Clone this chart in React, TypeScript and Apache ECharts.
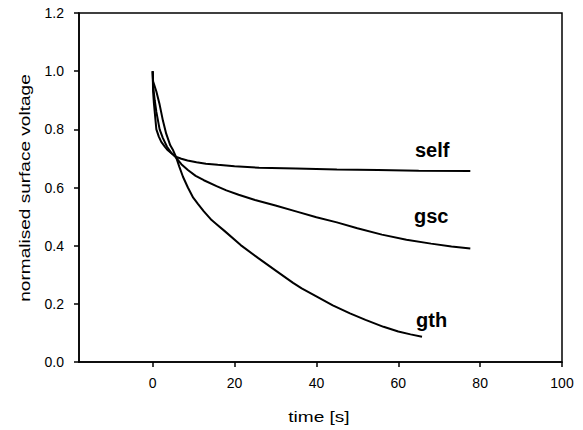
import React, { useEffect, useRef } from "react";
import * as echarts from "echarts";

// time [s] and normalised surface voltage
const selfT = [0, 0.1, 0.3, 0.5, 0.9, 1.5, 2.1, 3.0, 3.7, 4.8, 5.8, 7, 8.5, 10.7, 13, 15.9, 20, 26, 35, 45, 55, 65, 77.6];
const selfV = [1.0, 0.93, 0.89, 0.86, 0.8, 0.775, 0.757, 0.74, 0.728, 0.715, 0.705, 0.699, 0.693, 0.687, 0.682, 0.678, 0.673, 0.668, 0.665, 0.662, 0.66, 0.658, 0.657];

const gscT = [0, 0.1, 0.5, 0.9, 1.7, 2.5, 3.5, 4.5, 5.7, 7, 8.6, 10.5, 12.5, 15.6, 18, 21, 25, 30, 35, 40, 45, 50, 56, 62, 68, 73, 77.6];
const gscV = [1.0, 0.95, 0.9, 0.86, 0.8, 0.77, 0.74, 0.72, 0.703, 0.68, 0.66, 0.64, 0.625, 0.605, 0.59, 0.575, 0.557, 0.538, 0.518, 0.498, 0.48, 0.46, 0.438, 0.42, 0.407, 0.397, 0.39];

const gthT = [0, 0.1, 0.9, 1.7, 2.5, 3.3, 4.3, 5.0, 5.7, 6.5, 7.4, 8.6, 9.9, 11.1, 12.5, 14.4, 15.6, 17.6, 21.5, 25.8, 29.9, 34.3, 36.4, 40.1, 44, 48.2, 52, 56.4, 60, 63, 65.8];
const gthV = [1.0, 0.965, 0.93, 0.885, 0.83, 0.785, 0.745, 0.728, 0.705, 0.672, 0.637, 0.6, 0.565, 0.543, 0.518, 0.488, 0.474, 0.45, 0.402, 0.357, 0.316, 0.272, 0.253, 0.225, 0.195, 0.167, 0.145, 0.121, 0.105, 0.095, 0.087];

const seriesNames = ["self", "gsc", "gth"];
const xTicks = [0, 20, 40, 60, 80, 100];
const xTitle = "time [s]";
const yTitle = "normalised surface voltage";

const pair = (t: number[], v: number[]) => t.map((x, i) => [x, v[i]]);

export default function App() {
  const ref = useRef<HTMLDivElement>(null);
  useEffect(() => {
    if (!ref.current) return;
    const chart = echarts.init(ref.current, undefined, { renderer: "svg" });
    const datasets = [pair(selfT, selfV), pair(gscT, gscV), pair(gthT, gthV)];
    const labelFont = { fontFamily: "Liberation Sans, Arial, sans-serif", fontSize: 20, fontWeight: "bold" as const, fill: "#000" };
    const titleFont = { fontFamily: "Liberation Sans, Arial, sans-serif", fontSize: 14, fill: "#000", align: "center" as const, verticalAlign: "middle" as const };
    chart.setOption({
      animation: false,
      backgroundColor: "#fff",
      grid: { left: 79, right: 21, top: 13, bottom: 68, show: true, borderColor: "#000", borderWidth: 1.5, backgroundColor: "transparent" },
      xAxis: {
        type: "value",
        min: -18,
        max: 100,
        axisLine: { show: true, onZero: false, lineStyle: { color: "#000", width: 1.5 } },
        axisTick: { show: true, inside: false, length: 5, customValues: xTicks, lineStyle: { color: "#000", width: 1.5 } },
        axisLabel: { customValues: xTicks, margin: 14, fontFamily: "Liberation Sans, Arial, sans-serif", fontSize: 14, color: "#000" },
        splitLine: { show: false },
      },
      yAxis: {
        type: "value",
        min: 0,
        max: 1.2,
        interval: 0.2,
        axisLine: { show: true, onZero: false, lineStyle: { color: "#000", width: 1.5 } },
        axisTick: { show: true, inside: false, length: 5, lineStyle: { color: "#000", width: 1.5 } },
        axisLabel: { margin: 15, formatter: (v: number) => v.toFixed(1), fontFamily: "Liberation Sans, Arial, sans-serif", fontSize: 14, color: "#000" },
        splitLine: { show: false },
      },
      series: datasets.map((d, i) => ({
        name: seriesNames[i],
        type: "line",
        data: d,
        showSymbol: false,
        symbol: "none",
        smooth: false,
        lineStyle: { color: "#000", width: 2 },
      })),
      graphic: [
        { type: "text", left: 415, top: 140, style: { text: seriesNames[0], ...labelFont } },
        { type: "text", left: 414, top: 206, style: { text: seriesNames[1], ...labelFont } },
        { type: "text", left: 416, top: 310, style: { text: seriesNames[2], ...labelFont } },
        { type: "text", x: 319, y: 417, scaleX: 1.36, style: { text: xTitle, ...titleFont } },
        { type: "text", x: 25, y: 188, rotation: Math.PI / 2, scaleX: 1.36, style: { text: yTitle, ...titleFont } },
      ],
    });
    return () => chart.dispose();
  }, []);
  return <div ref={ref} style={{ position: "fixed", left: 0, top: 0, width: 583, height: 430, background: "#fff" }} />;
}
